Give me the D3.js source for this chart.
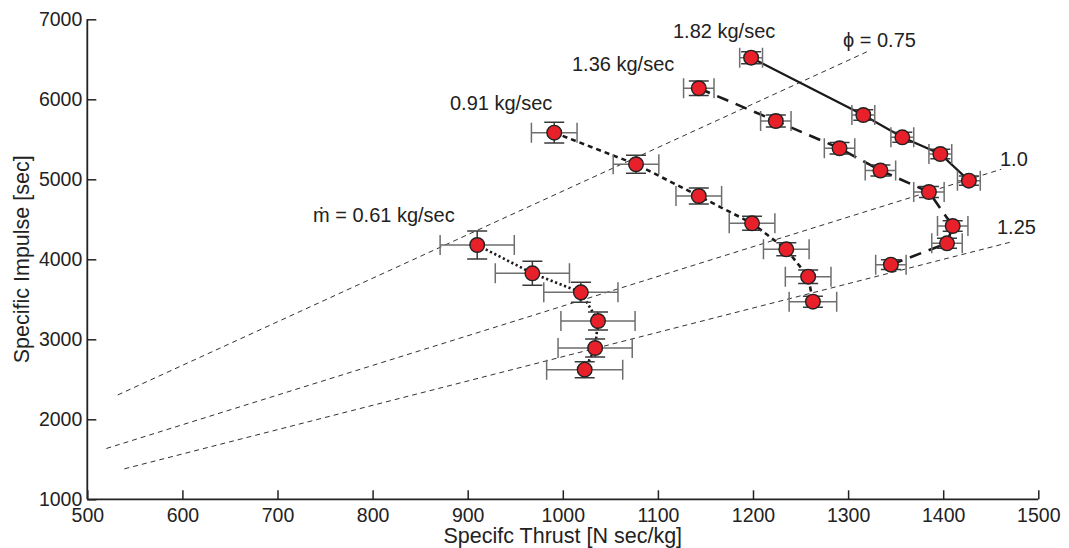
<!DOCTYPE html>
<html>
<head>
<meta charset="utf-8">
<script src="https://cdn.jsdelivr.net/npm/d3@7"></script>
<style>
  body { margin: 0; background: #fff; }
  text { font-family: "Liberation Sans", Arial, Helvetica, sans-serif; fill: #222; }
</style>
</head>
<body>
<div id="chart"></div>
<script>
// mass flow series: specific thrust, specific impulse and error sizes
const thrust061 = [910, 968, 1019, 1037, 1034, 1023]
const isp061 = [4179, 3825, 3587, 3229, 2891, 2620]
const xerr061 = [39, 39, 39, 39, 39, 40]
const yerr061 = [175, 150, 125, 112, 112, 100]

const thrust091 = [991, 1077, 1143, 1199, 1235, 1258, 1263]
const isp091 = [5583, 5188, 4791, 4450, 4125, 3783, 3470]
const xerr091 = [24, 24, 24, 24, 24, 24, 25]
const yerr091 = [130, 112, 100, 88, 81, 84, 69]

const thrust136 = [1143, 1224, 1291, 1334, 1385, 1410, 1404, 1345]
const isp136 = [6138, 5729, 5388, 5110, 4841, 4416, 4200, 3933]
const xerr136 = [16, 16, 16, 16, 16, 16, 16, 16]
const yerr136 = [90, 75, 72, 70, 68, 65, 62, 60]

const thrust182 = [1198, 1316, 1357, 1397, 1427]
const isp182 = [6520, 5804, 5525, 5316, 4983]
const xerr182 = [12, 12, 12, 12, 12]
const yerr182 = [75, 65, 62, 60, 58]

const seriesNames = ["ṁ = 0.61 kg/sec", "0.91 kg/sec", "1.36 kg/sec", "1.82 kg/sec"]

// equivalence ratio reference lines: [thrust, isp] end points
const phiNames = ["ϕ = 0.75", "1.0", "1.25"]
const phiStart = [[532, 2304], [520, 1635], [539, 1381]]
const phiEnd = [[1320, 6595], [1461, 5125], [1470, 4212]]

const xTicks = [500, 600, 700, 800, 900, 1000, 1100, 1200, 1300, 1400, 1500]
const yTicks = [1000, 2000, 3000, 4000, 5000, 6000, 7000]

function drawChart(container) {
    const margin = {top: 19.3, left: 87.3}
    const width = 951
    const height = 480

    const svg = d3.select(container)
        .append("svg")
        .attr("width", 1069)
        .attr("height", 548)

    const g = svg.append("g").attr("transform", `translate(${margin.left},${margin.top})`)

    const x = d3.scaleLinear().domain([500, 1500]).range([0, width])
    const y = d3.scaleLinear().domain([1000, 7000]).range([height, 0])

    // axes, ticks pointing inward
    const xAxis = g.append("g")
        .attr("transform", `translate(0,${height})`)
        .call(d3.axisBottom(x).tickValues(xTicks).tickFormat(d3.format("d")).tickSize(-9).tickPadding(14))
    const yAxis = g.append("g")
        .call(d3.axisLeft(y).tickValues(yTicks).tickFormat(d3.format("d")).tickSize(-9).tickPadding(14))

    ;[xAxis, yAxis].forEach(ax => {
        ax.select(".domain").attr("stroke", "#222").attr("stroke-width", 1.8)
        ax.selectAll(".tick line").attr("stroke", "#222").attr("stroke-width", 1.5)
        ax.selectAll(".tick text").attr("font-size", 19.5).attr("fill", "#222")
            .attr("font-family", "Liberation Sans, Arial, sans-serif")
    })
    xAxis.selectAll(".tick text").attr("dy", "0.45em")
    yAxis.selectAll(".tick text").attr("x", -5)
    // Matlab style: no outer tick ends on the domain
    xAxis.select(".domain").attr("d", `M0,0H${width}`)
    yAxis.select(".domain").attr("d", `M0,${height}V0`)

    // axis titles
    svg.append("text")
        .attr("x", margin.left + x(1000))
        .attr("y", 543)
        .attr("text-anchor", "middle")
        .attr("font-size", 21.5)
        .text("Specifc Thrust [N sec/kg]")
    svg.append("text")
        .attr("transform", `translate(29,${margin.top + y(4000)}) rotate(-90)`)
        .attr("text-anchor", "middle")
        .attr("font-size", 21.5)
        .text("Specific Impulse [sec]")

    // phi lines
    phiStart.forEach((s, i) => {
        g.append("line")
            .attr("x1", x(s[0])).attr("y1", y(s[1]))
            .attr("x2", x(phiEnd[i][0])).attr("y2", y(phiEnd[i][1]))
            .attr("stroke", "#333")
            .attr("stroke-width", 1)
            .attr("stroke-dasharray", "5,4")
    })

    const series = [
        {t: thrust061, v: isp061, xe: xerr061, ye: yerr061, dash: "2.2,2.6", w: 2.6},
        {t: thrust091, v: isp091, xe: xerr091, ye: yerr091, dash: "5,4", w: 2.6},
        {t: thrust136, v: isp136, xe: xerr136, ye: yerr136, dash: "12,8", w: 2.6},
        {t: thrust182, v: isp182, xe: xerr182, ye: yerr182, dash: null, w: 2.2}
    ]

    const line = d3.line().x(d => x(d[0])).y(d => y(d[1]))
    const cap = 10

    series.forEach(s => {
        const pts = s.t.map((d, i) => [d, s.v[i], s.xe[i], s.ye[i]])

        g.append("path")
            .datum(pts)
            .attr("d", line)
            .attr("fill", "none")
            .attr("stroke", "#1a1a1a")
            .attr("stroke-width", s.w)
            .attr("stroke-dasharray", s.dash)

        const eb = g.append("g")
        pts.forEach(p => {
            const cx = x(p[0]), cy = y(p[1])
            const x0 = x(p[0] - p[2]), x1 = x(p[0] + p[2])
            const y0 = y(p[1] + p[3]), y1 = y(p[1] - p[3])
            // horizontal error bar
            eb.append("path")
                .attr("d", `M${x0},${cy}H${x1}M${x0},${cy - cap}V${cy + cap}M${x1},${cy - cap}V${cy + cap}`)
                .attr("stroke", "#6e6e6e").attr("stroke-width", 1.5).attr("fill", "none")
            // vertical error bar
            eb.append("path")
                .attr("d", `M${cx},${y0}V${y1}M${cx - cap},${y0}H${cx + cap}M${cx - cap},${y1}H${cx + cap}`)
                .attr("stroke", "#3a3a3a").attr("stroke-width", 1.5).attr("fill", "none")
        })

        g.append("g").selectAll("circle")
            .data(pts)
            .enter()
            .append("circle")
            .attr("cx", d => x(d[0]))
            .attr("cy", d => y(d[1]))
            .attr("r", 7.3)
            .attr("fill", "#e8202a")
            .attr("stroke", "#222")
            .attr("stroke-width", 1.4)
    })

    // labels
    const labelPos = [[313, 222], [450, 110], [572, 71], [673, 38]]
    seriesNames.forEach((n, i) => {
        svg.append("text")
            .attr("x", labelPos[i][0]).attr("y", labelPos[i][1])
            .attr("font-size", 20)
            .text(n)
    })
    const phiPos = [[843, 47], [1000, 166], [997, 234]]
    phiNames.forEach((n, i) => {
        svg.append("text")
            .attr("x", phiPos[i][0]).attr("y", phiPos[i][1])
            .attr("font-size", 20)
            .text(n)
    })
}

drawChart("#chart")
</script>
</body>
</html>
